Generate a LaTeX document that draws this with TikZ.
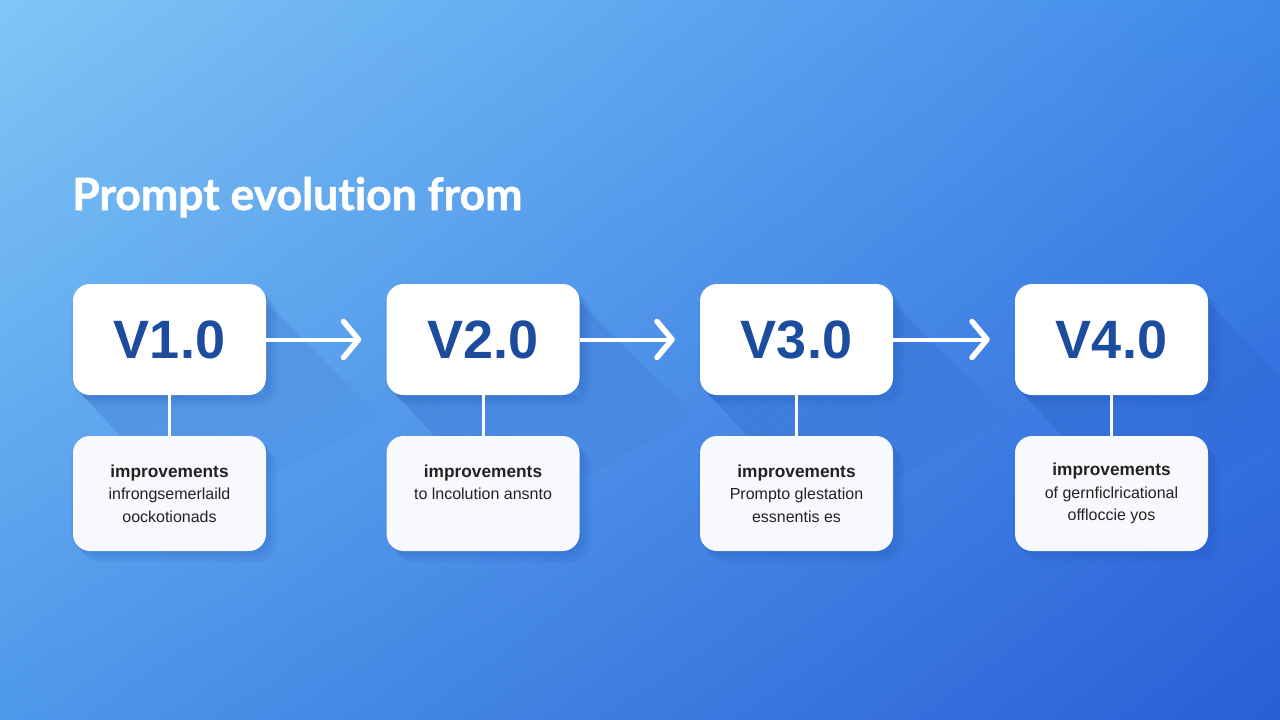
\documentclass[tikz,border=0pt]{standalone}
\usepackage{fontspec}
\setmainfont{Liberation Sans}
\newfontfamily\titlefont{Lato}[Ligatures=NoCommon, BoldFeatures={FakeBold=1.2}]
\usetikzlibrary{arrows.meta,fadings,shadings}
\definecolor{bgA}{HTML}{80C6F6}
\definecolor{bgB}{HTML}{4089EA}
\definecolor{bgC}{HTML}{4E98EA}
\definecolor{bgD}{HTML}{2A5ED6}
\definecolor{vtext}{HTML}{1C4C9E}
\definecolor{dtext}{HTML}{222222}
\definecolor{shadowc}{HTML}{1A4BB0}
\definecolor{boxfill}{HTML}{F7F9FD}
\tikzfading[name=shfade, left color=transparent!25, right color=transparent!100]
\tikzset{
  topbox/.style={rectangle, rounded corners=17pt, fill=white, minimum width=193pt, minimum height=111pt, inner sep=0pt, text=vtext, font=\fontsize{54}{60}\selectfont\bfseries},
  descbox/.style={rectangle, rounded corners=17pt, fill=boxfill, minimum width=193pt, minimum height=115pt, inner sep=0pt, text=dtext, align=center, font=\fontsize{16}{22.5}\selectfont},
  flowarrow/.style={draw=white, line width=4pt, -{Straight Barb[length=15pt,width=36pt,line width=5.5pt,round]}},
  vline/.style={draw=white, line width=3pt},
  longshadow/.style={fill=shadowc, fill opacity=0.32, path fading=shfade, fading angle=-45},
  softshadow/.style={fill=shadowc, fill opacity=0.07, rounded corners=20pt},
  titlestyle/.style={font=\titlefont\bfseries\fontsize{44.5}{50}\selectfont, anchor=base west, inner sep=0pt}
}
\newcommand{\longsh}[4]{% x1 y1 x2 y2
  \fill[longshadow] (#3-8,#2+10) -- (#3+115,#2+133) -- (#1+123,#4+123) -- (#1+10,#4) -- (#3,#4) -- cycle;
}
\newcommand{\softsh}[4]{%
  \foreach \s in {2,5,8,11}{\fill[softshadow] (#1+\s-4,#2+\s) rectangle (#3+\s,#4+\s);}
}
\begin{document}
\begin{tikzpicture}[x=1pt,y=-1pt]
\useasboundingbox (0,0) rectangle (1280,720);
\shade[upper left=bgA, upper right=bgB, lower left=bgC, lower right=bgD] (0,0) rectangle (1280,720);
% shadows
\foreach \xa in {73,387,700,1015}{
  \longsh{\xa}{284}{\xa+193}{395}
  \softsh{\xa}{284}{\xa+193}{395}
  \softsh{\xa}{436}{\xa+193}{551}
}
\node[titlestyle, text=white] (title) at (72,210) {Prompt evolution from};

\node[topbox] (v1) at (169.5,339.5) {V1.0};
\node[topbox] (v2) at (483,339.5) {V2.0};
\node[topbox] (v3) at (796.5,339.5) {V3.0};
\node[topbox] (v4) at (1111.5,339.5) {V4.0};

\node[descbox] (d1) at (169.5,493.5) {\textbf{\fontsize{17.3}{22.5}\selectfont improvements}\\infrongsemerlaild\\oockotionads};
\node[descbox] (d2) at (483,493.5) {\textbf{\fontsize{17.3}{22.5}\selectfont improvements}\\to lncolution ansnto\\~};
\node[descbox] (d3) at (796.5,493.5) {\textbf{\fontsize{17.3}{22.5}\selectfont improvements}\\Prompto glestation\\essnentis es};
\node[descbox] (d4) at (1111.5,493.5) {\textbf{\fontsize{17.3}{22.5}\selectfont improvements}\\of gernficlricational\\offlocciе yos};

\draw[flowarrow] (v1.east) -- ([xshift=-25pt]v2.west);
\draw[flowarrow] (v2.east) -- ([xshift=-25pt]v3.west);
\draw[flowarrow] (v3.east) -- ([xshift=-25pt]v4.west);

\draw[vline] (v1.south) -- (d1.north);
\draw[vline] (v2.south) -- (d2.north);
\draw[vline] (v3.south) -- (d3.north);
\draw[vline] (v4.south) -- (d4.north);
\end{tikzpicture}
\end{document}
